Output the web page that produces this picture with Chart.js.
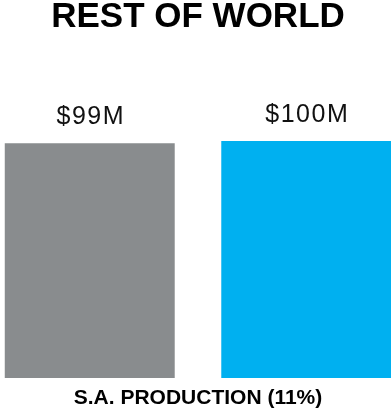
<!DOCTYPE html>
<html>
<head>
<meta charset="utf-8">
<script src="https://cdn.jsdelivr.net/npm/chart.js@4/dist/chart.umd.min.js"></script>
<style>
  html, body { margin: 0; padding: 0; background: #fff; }
  canvas { display: block; }
</style>
</head>
<body>
<canvas id="chart" width="391" height="411"></canvas>
<script>
var categories = ["S.A. PRODUCTION (11%)"];
var seriesNames = ["Prior", "Current"];
var prodValues = [99];
var worldValues = [100];
var valueLabels = ["$99M", "$100M"];
var barColors = ["#898c8e", "#00b0f0"];

var labelPlugin = {
    id: "valueLabels",
    afterDatasetsDraw: function (chart) {
        var ctx = chart.ctx;
        ctx.save();
        ctx.font = "25px 'Liberation Sans', Arial, sans-serif";
        ctx.letterSpacing = "1.5px";
        ctx.fillStyle = "#111";
        ctx.textAlign = "center";
        ctx.textBaseline = "alphabetic";
        chart.data.datasets.forEach(function (ds, i) {
            var meta = chart.getDatasetMeta(i);
            meta.data.forEach(function (bar) {
                ctx.fillText(valueLabels[i], bar.x + 1, bar.y - 19.5);
            });
        });
        ctx.restore();
    }
};

var chart = new Chart(document.getElementById("chart").getContext("2d"), {
    type: "bar",
    data: {
        labels: categories,
        datasets: [
            {
                label: seriesNames[0],
                data: prodValues,
                backgroundColor: barColors[0]
            },
            {
                label: seriesNames[1],
                data: worldValues,
                backgroundColor: barColors[1]
            }
        ]
    },
    options: {
        responsive: false,
        animation: false,
        layout: {
            padding: { left: 5, right: 0, top: 0, bottom: 0 }
        },
        datasets: {
            bar: {
                categoryPercentage: 1.1218,
                barPercentage: 0.785,
                clip: false
            }
        },
        plugins: {
            legend: { display: false },
            tooltip: { enabled: false },
            title: {
                display: true,
                text: "REST OF WORLD",
                color: "#000",
                font: { family: "'Liberation Sans', Arial, sans-serif", size: 35, weight: "bold", lineHeight: 1 },
                padding: { top: 0, bottom: 106 }
            }
        },
        scales: {
            x: {
                grid: { display: false, drawTicks: false },
                border: { display: false },
                afterFit: function (scale) {
                    scale.height = 33;
                },
                ticks: {
                    color: "#000",
                    padding: 8,
                    font: { family: "'Liberation Sans', Arial, sans-serif", size: 21, weight: "bold" }
                }
            },
            y: {
                display: false,
                min: 0,
                max: 100
            }
        }
    },
    plugins: [labelPlugin]
});
</script>
</body>
</html>
